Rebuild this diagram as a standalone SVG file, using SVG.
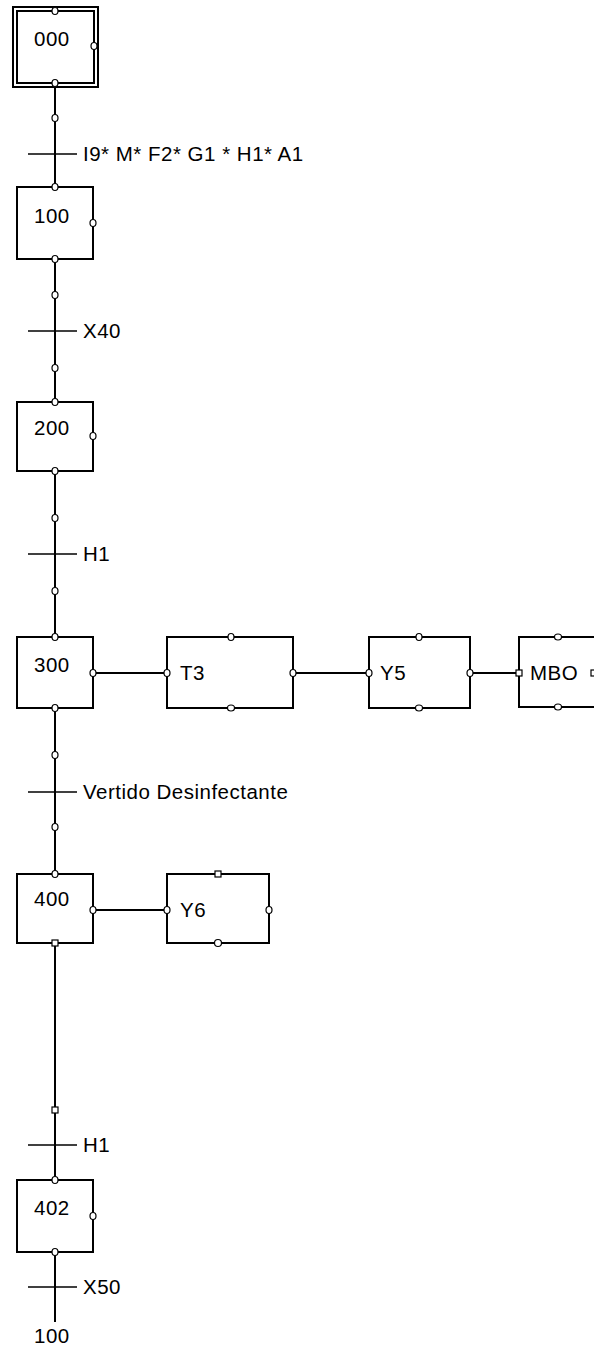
<svg xmlns="http://www.w3.org/2000/svg" width="594" height="1348" viewBox="0 0 594 1348">
<style>
.box{fill:#fff;stroke:#000;stroke-width:2}
.ln{fill:none;stroke:#000;stroke-width:2}
.bar{fill:none;stroke:#000;stroke-width:1.6}
.pt{fill:#fff;stroke:#000;stroke-width:1.2}
.sq{fill:#fff;stroke:#000;stroke-width:1.2}
text{font-family:"Liberation Sans",Arial,sans-serif;font-size:20.5px;letter-spacing:0.5px;fill:#000}
</style>
<rect width="594" height="1348" fill="#fff"/>
<g id="connectors">
<line class="ln" x1="55" y1="87" x2="55" y2="187"/>
<line class="ln" x1="55" y1="259" x2="55" y2="402"/>
<line class="ln" x1="55" y1="471" x2="55" y2="637"/>
<line class="ln" x1="55" y1="708" x2="55" y2="874"/>
<line class="ln" x1="55" y1="943" x2="55" y2="1180"/>
<line class="ln" x1="55" y1="1252" x2="55" y2="1322"/>
<line class="ln" x1="93" y1="673" x2="167" y2="673"/>
<line class="ln" x1="293" y1="673" x2="369" y2="673"/>
<line class="ln" x1="470" y1="673" x2="519" y2="673"/>
<line class="ln" x1="93" y1="910" x2="167" y2="910"/>
<ellipse class="pt" cx="55" cy="118" rx="3" ry="3.5"/>
<ellipse class="pt" cx="55" cy="295" rx="3" ry="3.5"/>
<ellipse class="pt" cx="55" cy="368" rx="3" ry="3.5"/>
<ellipse class="pt" cx="55" cy="518" rx="3" ry="3.5"/>
<ellipse class="pt" cx="55" cy="591" rx="3" ry="3.5"/>
<ellipse class="pt" cx="55" cy="755" rx="3" ry="3.5"/>
<ellipse class="pt" cx="55" cy="827" rx="3" ry="3.5"/>
<rect class="sq" x="52" y="1107" width="6" height="6"/>
</g>
<g id="t1"><line class="bar" x1="28" y1="154" x2="77" y2="154"/><text x="83" y="161">I9* M* F2* G1 * H1* A1</text></g>
<g id="t2"><line class="bar" x1="28" y1="331" x2="77" y2="331"/><text x="83" y="338">X40</text></g>
<g id="t3"><line class="bar" x1="28" y1="554" x2="77" y2="554"/><text x="83" y="561">H1</text></g>
<g id="t4"><line class="bar" x1="28" y1="792" x2="77" y2="792"/><text x="83" y="799">Vertido Desinfectante</text></g>
<g id="t5"><line class="bar" x1="28" y1="1145" x2="77" y2="1145"/><text x="83" y="1152">H1</text></g>
<g id="t6"><line class="bar" x1="28" y1="1287" x2="77" y2="1287"/><text x="83" y="1294">X50</text></g>
<g id="s000">
<rect class="box" x="13" y="7" width="85" height="80"/>
<rect class="box" x="17" y="11" width="77" height="72"/>
<text x="34" y="46">000</text>
<ellipse class="pt" cx="55" cy="11" rx="3" ry="3.5"/>
<ellipse class="pt" cx="94" cy="46" rx="3" ry="3.5"/>
<ellipse class="pt" cx="55" cy="83" rx="3" ry="3.5"/>
</g>
<g id="s100">
<rect class="box" x="17" y="187" width="76" height="72"/>
<text x="34" y="223">100</text>
<ellipse class="pt" cx="55" cy="187" rx="3" ry="3.5"/>
<ellipse class="pt" cx="93" cy="223" rx="3" ry="3.5"/>
<ellipse class="pt" cx="55" cy="259" rx="3" ry="3.5"/>
</g>
<g id="s200">
<rect class="box" x="17" y="402" width="76" height="69"/>
<text x="34" y="435">200</text>
<ellipse class="pt" cx="55" cy="402" rx="3" ry="3.5"/>
<ellipse class="pt" cx="93" cy="436" rx="3" ry="3.5"/>
<ellipse class="pt" cx="55" cy="471" rx="3" ry="3.5"/>
</g>
<g id="s300">
<rect class="box" x="17" y="637" width="76" height="71"/>
<text x="34" y="672">300</text>
<ellipse class="pt" cx="55" cy="637" rx="3" ry="3.5"/>
<ellipse class="pt" cx="93" cy="673" rx="3" ry="3.5"/>
<ellipse class="pt" cx="55" cy="708" rx="3" ry="3.5"/>
</g>
<g id="aT3">
<rect class="box" x="167" y="637" width="126" height="71"/>
<text x="180" y="680">T3</text>
<ellipse class="pt" cx="231" cy="637" rx="3" ry="3.5"/>
<ellipse class="pt" cx="167" cy="673" rx="3" ry="3.5"/>
<ellipse class="pt" cx="293" cy="673" rx="3" ry="3.5"/>
<ellipse class="pt" cx="231" cy="708" rx="3.5" ry="3"/>
</g>
<g id="aY5">
<rect class="box" x="369" y="637" width="101" height="71"/>
<text x="380" y="680">Y5</text>
<ellipse class="pt" cx="419" cy="637" rx="3" ry="3.5"/>
<ellipse class="pt" cx="369" cy="673" rx="3" ry="3.5"/>
<ellipse class="pt" cx="470" cy="673" rx="3" ry="3.5"/>
<ellipse class="pt" cx="419" cy="708" rx="3.5" ry="3"/>
</g>
<g id="aMBO">
<rect class="box" x="519" y="637" width="78" height="70"/>
<text x="530" y="680">MBO</text>
<ellipse class="pt" cx="558" cy="637" rx="3.5" ry="3"/>
<rect class="sq" x="516" y="670" width="6" height="6"/>
<rect class="sq" x="591" y="670" width="6" height="6"/>
<ellipse class="pt" cx="558" cy="707" rx="3.5" ry="3"/>
</g>
<g id="s400">
<rect class="box" x="17" y="874" width="76" height="69"/>
<text x="34" y="906">400</text>
<ellipse class="pt" cx="55" cy="874" rx="3" ry="3.5"/>
<ellipse class="pt" cx="93" cy="910" rx="3" ry="3.5"/>
<rect class="sq" x="52" y="940" width="6" height="6"/>
</g>
<g id="aY6">
<rect class="box" x="167" y="874" width="102" height="69"/>
<text x="180" y="917">Y6</text>
<rect class="sq" x="215" y="871" width="6" height="6"/>
<ellipse class="pt" cx="167" cy="910" rx="3" ry="3.5"/>
<ellipse class="pt" cx="269" cy="910" rx="3" ry="3.5"/>
<ellipse class="pt" cx="218" cy="943" rx="3.5" ry="3.5"/>
</g>
<g id="s402">
<rect class="box" x="17" y="1180" width="76" height="72"/>
<text x="34" y="1215">402</text>
<ellipse class="pt" cx="55" cy="1180" rx="3" ry="3.5"/>
<ellipse class="pt" cx="93" cy="1216" rx="3" ry="3.5"/>
<ellipse class="pt" cx="55" cy="1252" rx="3" ry="3.5"/>
</g>
<g id="jump100"><text x="34" y="1343">100</text></g>
</svg>
